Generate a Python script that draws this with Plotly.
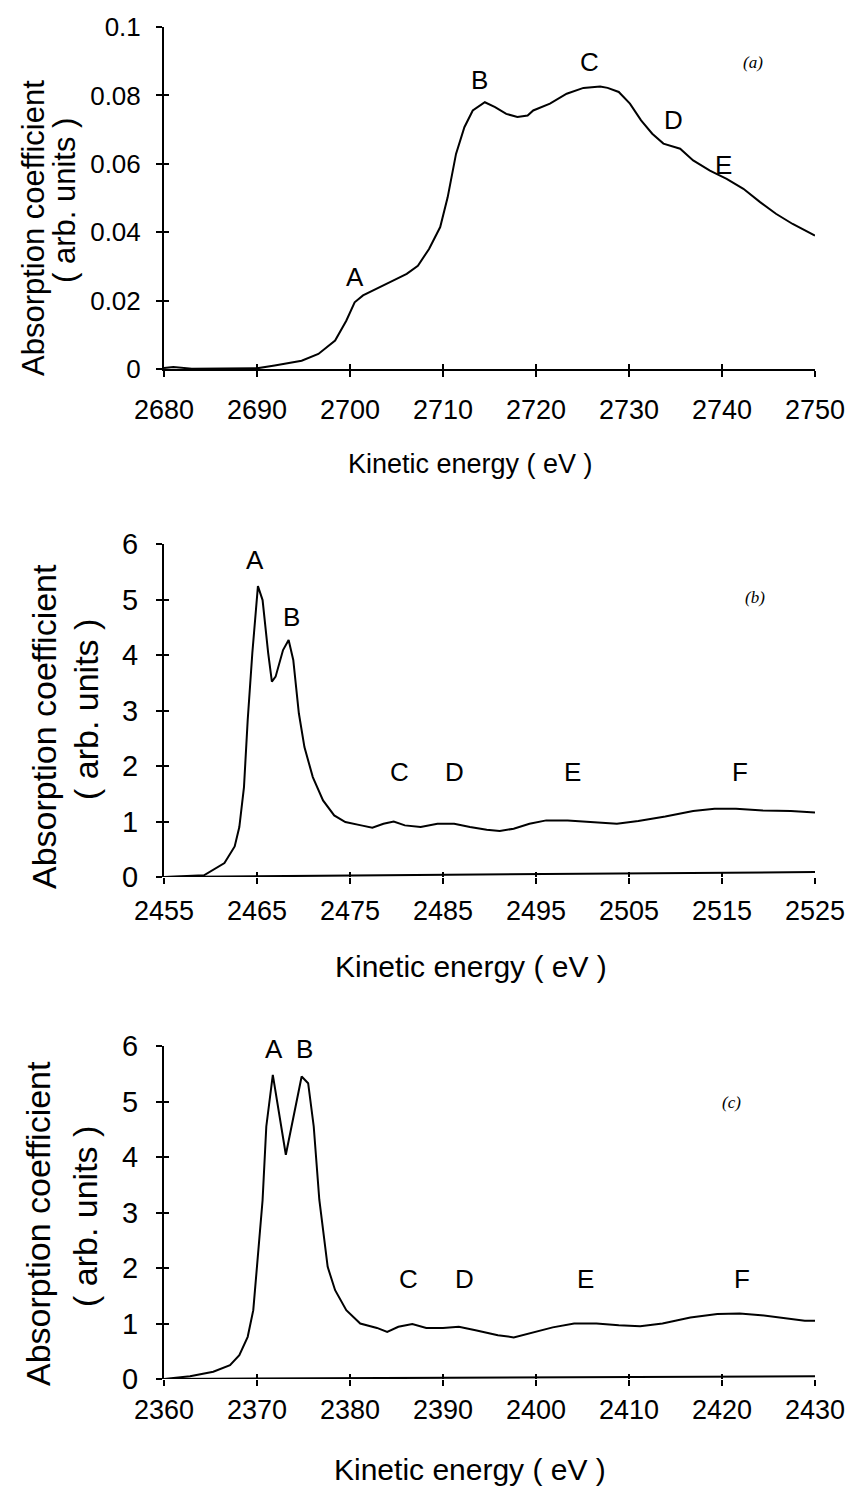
import plotly.graph_objects as go

# ---- (a) spectrum ----
energy_a = [2680, 2681, 2683, 2686, 2689, 2690, 2691.9, 2694.8, 2696.6, 2698.4, 2699.6, 2700.5,
            2701.4, 2702.5, 2704.3, 2706.1, 2707.3, 2708.5, 2709.7, 2710.5, 2711.4, 2712.3,
            2713.2, 2714.5, 2715.6, 2716.8, 2718.0, 2719.1, 2719.7, 2721.5, 2723.3, 2725.1,
            2726.9, 2727.7, 2728.9, 2730.1, 2731.3, 2732.5, 2733.7, 2735.5, 2736.9, 2738.7,
            2740.5, 2742.3, 2744.1, 2745.8, 2747.6, 2750]
absorb_a = [0.0003, 0.0006, 0.0001, 0.0001, 0.0001, 0.0002, 0.0010, 0.0024, 0.0044, 0.0083, 0.0141,
            0.0195, 0.0215, 0.0229, 0.0254, 0.0278, 0.0302, 0.0351, 0.0415, 0.0502, 0.0629,
            0.0707, 0.0756, 0.0780, 0.0766, 0.0746, 0.0737, 0.0741, 0.0756, 0.0776, 0.0805,
            0.0822, 0.0826, 0.0822, 0.0810, 0.0776, 0.0727, 0.0688, 0.0659, 0.0644, 0.0610,
            0.0580, 0.0556, 0.0527, 0.0488, 0.0454, 0.0424, 0.0390]
peaks_a = ["A", "B", "C", "D", "E"]
peak_x_a = [2700.5, 2713.9, 2725.8, 2734.8, 2740.2]
peak_y_a = [0.0269, 0.0845, 0.0898, 0.0728, 0.0596]
yticks_a = [0, 0.02, 0.04, 0.06, 0.08, 0.1]
yticktext_a = ["0", "0.02", "0.04", "0.06", "0.08", "0.1"]
xticks_a = [2680, 2690, 2700, 2710, 2720, 2730, 2740, 2750]

# ---- (b) spectrum ----
energy_b = [2455, 2459.3, 2461.5, 2462.6, 2463.1, 2463.6, 2464.0, 2464.5, 2465.1, 2465.6,
            2466.2, 2466.6, 2467.0, 2467.8, 2468.4, 2468.9, 2469.5, 2470.1, 2471.0, 2472.1,
            2473.3, 2474.5, 2476.2, 2477.4, 2478.6, 2479.7, 2480.9, 2482.6, 2484.4, 2486.2,
            2487.9, 2489.7, 2491.1, 2492.6, 2494.3, 2496.1, 2498.4, 2500.8, 2503.7, 2506.0,
            2508.9, 2511.9, 2514.2, 2516.5, 2519.4, 2522.4, 2525]
absorb_b = [0.0, 0.03, 0.25, 0.55, 0.90, 1.62, 2.83, 4.04, 5.24, 4.99,
            4.04, 3.52, 3.61, 4.09, 4.27, 3.91, 2.95, 2.34, 1.80, 1.38,
            1.11, 0.99, 0.93, 0.89, 0.96, 1.00, 0.93, 0.90, 0.96, 0.96,
            0.90, 0.85, 0.83, 0.87, 0.96, 1.02, 1.02, 0.99, 0.96, 1.01,
            1.09, 1.19, 1.23, 1.23, 1.20, 1.19, 1.16]
baseline_x_b = [2455, 2525]
baseline_y_b = [0.0, 0.09]
peaks_b = ["A", "B", "C", "D", "E", "F"]
peak_x_b = [2464.8, 2468.7, 2480.3, 2486.2, 2498.9, 2516.9]
peak_y_b = [5.72, 4.69, 1.90, 1.90, 1.90, 1.90]
xticks_b = [2455, 2465, 2475, 2485, 2495, 2505, 2515, 2525]

# ---- (c) spectrum ----
energy_c = [2360, 2362.8, 2365.3, 2367.1, 2368.1, 2369.0, 2369.6, 2369.9, 2370.3, 2370.6,
            2371.0, 2371.7, 2373.1, 2374.8, 2375.5, 2376.1, 2376.7, 2377.6, 2378.4, 2379.6,
            2381.1, 2382.9, 2384.0, 2385.2, 2386.7, 2388.2, 2390.0, 2391.7, 2393.5, 2395.9,
            2397.6, 2399.4, 2401.8, 2404.1, 2406.5, 2408.9, 2411.2, 2413.6, 2416.6, 2419.5,
            2421.9, 2424.2, 2426.6, 2428.9, 2430]
absorb_c = [0.0, 0.05, 0.13, 0.25, 0.43, 0.76, 1.24, 1.84, 2.63, 3.22,
            4.55, 5.48, 4.04, 5.45, 5.33, 4.55, 3.23, 2.02, 1.60, 1.24,
            1.00, 0.92, 0.85, 0.94, 0.99, 0.92, 0.92, 0.94, 0.88, 0.79,
            0.75, 0.83, 0.93, 1.00, 1.00, 0.97, 0.95, 1.00, 1.11, 1.17,
            1.18, 1.15, 1.10, 1.05, 1.05]
baseline_x_c = [2360, 2430]
baseline_y_c = [0.0, 0.05]
peaks_c = ["A", "B", "C", "D", "E", "F"]
peak_x_c = [2371.8, 2375.1, 2386.3, 2392.3, 2405.3, 2422.2]
peak_y_c = [5.94, 5.94, 1.81, 1.81, 1.81, 1.81]
xticks_c = [2360, 2370, 2380, 2390, 2400, 2410, 2420, 2430]

yticks_bc = [0, 1, 2, 3, 4, 5, 6]

W, H = 856, 1489
FONT = "Liberation Sans, Arial, sans-serif"
SERIF = "Liberation Serif, Times New Roman, serif"
LINE = dict(color="black", width=2)


def ydom(top_px, bottom_px):
    return [1 - bottom_px / H, 1 - top_px / H]


xdom = [164 / W, 815 / W]

fig = go.Figure()
fig.add_trace(go.Scatter(x=energy_a, y=absorb_a, mode="lines", line=LINE, xaxis="x", yaxis="y"))
fig.add_trace(go.Scatter(x=baseline_x_b, y=baseline_y_b, mode="lines", line=LINE, xaxis="x2", yaxis="y2"))
fig.add_trace(go.Scatter(x=energy_b, y=absorb_b, mode="lines", line=LINE, xaxis="x2", yaxis="y2"))
fig.add_trace(go.Scatter(x=baseline_x_c, y=baseline_y_c, mode="lines", line=LINE, xaxis="x3", yaxis="y3"))
fig.add_trace(go.Scatter(x=energy_c, y=absorb_c, mode="lines", line=LINE, xaxis="x3", yaxis="y3"))

# empty traces that bring up the inner-tick overlay axes (ticks cross the axis lines)
for k in (4, 5, 6):
    fig.add_trace(go.Scatter(x=[], y=[], mode="lines", xaxis=f"x{k}", yaxis=f"y{k}",
                             hoverinfo="skip"))

TICK = dict(ticklen=6, tickwidth=1.5, tickcolor="black")
common_x = dict(showgrid=False, zeroline=False, ticks="outside", linecolor="black", linewidth=2,
                automargin=False, tickfont=dict(family=FONT, size=27, color="black"), **TICK)
common_y = dict(showgrid=False, zeroline=False, ticks="outside", linecolor="black", linewidth=2,
                showline=True, automargin=False, **TICK)
inner = dict(showgrid=False, zeroline=False, ticks="inside", showline=False,
             showticklabels=False, automargin=False, ticklen=5, tickwidth=1.5,
             tickcolor="black")

fig.update_layout(
    width=W, height=H,
    margin=dict(l=0, r=0, t=0, b=0, pad=0, autoexpand=False),
    paper_bgcolor="white", plot_bgcolor="white",
    showlegend=False,
    xaxis=dict(domain=xdom, anchor="y", range=[2680, 2750], tickvals=xticks_a,
               showline=True, ticklabelstandoff=10, **common_x),
    yaxis=dict(domain=ydom(27, 369), anchor="x", range=[0, 0.1], tickvals=yticks_a,
               ticktext=yticktext_a, ticklabelstandoff=10,
               tickfont=dict(family=FONT, size=26, color="black"), **common_y),
    xaxis2=dict(domain=xdom, anchor="y2", range=[2455, 2525], tickvals=xticks_b,
                showline=False, ticklabelstandoff=4, **common_x),
    yaxis2=dict(domain=ydom(544, 877), anchor="x2", range=[0, 6], tickvals=yticks_bc,
                ticklabelstandoff=12,
                tickfont=dict(family=FONT, size=29, color="black"), **common_y),
    xaxis3=dict(domain=xdom, anchor="y3", range=[2360, 2430], tickvals=xticks_c,
                showline=False, ticklabelstandoff=1, **common_x),
    yaxis3=dict(domain=ydom(1046, 1379), anchor="x3", range=[0, 6], tickvals=yticks_bc,
                ticklabelstandoff=12,
                tickfont=dict(family=FONT, size=29, color="black"), **common_y),
    xaxis4=dict(overlaying="x", anchor="y4", range=[2680, 2750], tickvals=xticks_a, **inner),
    yaxis4=dict(overlaying="y", anchor="x4", range=[0, 0.1], tickvals=yticks_a, **inner),
    xaxis5=dict(overlaying="x2", anchor="y5", range=[2455, 2525], tickvals=xticks_b, **inner),
    yaxis5=dict(overlaying="y2", anchor="x5", range=[0, 6], tickvals=yticks_bc, **inner),
    xaxis6=dict(overlaying="x3", anchor="y6", range=[2360, 2430], tickvals=xticks_c, **inner),
    yaxis6=dict(overlaying="y3", anchor="x6", range=[0, 6], tickvals=yticks_bc, **inner),
)

ann = []


def peak_labels(names, xs, ys, xref, yref):
    for n, x, y in zip(names, xs, ys):
        ann.append(dict(text=n, x=x, y=y, xref=xref, yref=yref, showarrow=False,
                        font=dict(family=FONT, size=26, color="black")))


peak_labels(peaks_a, peak_x_a, peak_y_a, "x", "y")
peak_labels(peaks_b, peak_x_b, peak_y_b, "x2", "y2")
peak_labels(peaks_c, peak_x_c, peak_y_c, "x3", "y3")


def px_text(text, x_px, y_px, size, angle=0, family=FONT, italic=False):
    ann.append(dict(text=f"<i>{text}</i>" if italic else text,
                    x=x_px / W, y=1 - y_px / H, xref="paper", yref="paper",
                    xanchor="center", yanchor="middle", showarrow=False, textangle=angle,
                    font=dict(family=family, size=size, color="black")))


# panel tags
px_text("(a)", 753, 62, 17, family=SERIF, italic=True)
px_text("(b)", 755, 598, 17, family=SERIF, italic=True)
px_text("(c)", 731, 1102, 17, family=SERIF, italic=True)

# axis titles
px_text("Kinetic energy ( eV )", 470, 464, 27)
px_text("Kinetic energy ( eV )", 471, 966, 30)
px_text("Kinetic energy ( eV )", 470, 1469, 30)

px_text("Absorption coefficient", 33, 228, 31, angle=-90)
px_text("( arb. units )", 64, 200, 31, angle=-90)
px_text("Absorption coefficient", 44, 727, 34, angle=-90)
px_text("( arb. units )", 86, 710, 34, angle=-90)
px_text("Absorption coefficient", 38, 1224, 34, angle=-90)
px_text("( arb. units )", 85, 1217, 34, angle=-90)

fig.update_layout(annotations=ann)
fig.write_html("out.html")
